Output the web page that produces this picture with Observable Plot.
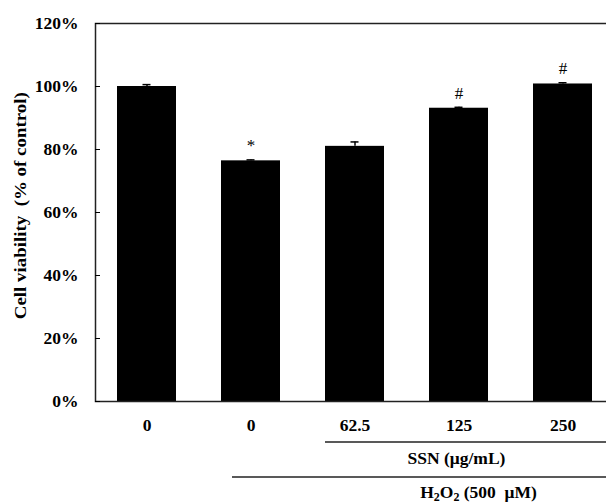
<!DOCTYPE html>
<html>
<head>
<meta charset="utf-8">
<script src="https://cdn.jsdelivr.net/npm/d3@7"></script>
<script src="https://cdn.jsdelivr.net/npm/@observablehq/plot@0.6"></script>
<style>
  html, body { margin: 0; padding: 0; background: #fff; }
  #chart svg { font-family: "Liberation Serif", "Times New Roman", serif; display: block; }
</style>
</head>
<body>
<div id="chart"></div>
<script>
// ---- data ----
const groupIds   = ["ctrl", "h2o2", "s62", "s125", "s250"];
const tickLabels = ["0", "0", "62.5", "125", "250"];
const viability  = [100.0, 76.4, 81.0, 93.1, 100.8];
const errors     = [0.6, 0.3, 1.4, 0.3, 0.4];
const marks      = ["", "*", "", "#", "#"];
const yTicks     = [0, 20, 40, 60, 80, 100, 120];
const yTitle     = "Cell viability  (% of control)";
const ssnLabel   = "SSN (μg/mL)";

const data = groupIds.map((id, i) => ({
  id, label: tickLabels[i], value: viability[i], err: errors[i], sig: marks[i]
}));
const labelOf = Object.fromEntries(data.map(d => [d.id, d.label]));

const W = 606, H = 503;
const plot = Plot.plot({
  width: W,
  height: H,
  marginLeft: 95,
  marginRight: -9,
  marginTop: 23,
  marginBottom: 102,
  style: {fontFamily: "Liberation Serif, Times New Roman, serif", background: "#fff"},
  x: {type: "band", domain: groupIds, paddingInner: 0.43, paddingOuter: 0.215},
  y: {domain: [0, 120]},
  marks: [
    Plot.barY(data, {x: "id", y: "value", fill: "black"}),
    Plot.ruleX(data, {x: "id", y1: "value", y2: d => d.value + d.err, stroke: "black", strokeWidth: 1.5}),
    Plot.tickY(data, {x: "id", y: d => d.value + d.err, stroke: "black", strokeWidth: 1.5, insetLeft: 25.5, insetRight: 25.5}),
    Plot.text(data.filter(d => d.sig), {x: "id", y: d => d.value + d.err, text: "sig", dy: -14, fontSize: 17, fill: "black"}),
    Plot.frame({stroke: "#222", strokeWidth: 1.5}),
    Plot.axisY({ticks: yTicks, tickFormat: d => d + "%", tickSize: -5, tickPadding: 22, fontSize: 17.5, fontWeight: "bold", label: null, stroke: "black"}),
    Plot.axisX({tickFormat: id => labelOf[id], tickSize: 0, tickPadding: 17, fontSize: 17.5, fontWeight: "bold", label: null})
  ]
});
document.getElementById("chart").appendChild(plot);

// ---- group annotations below the axis, positioned from the plot's scales ----
const xs = plot.scale("x"), ys = plot.scale("y");
const bw = xs.bandwidth;
const base = ys.apply(0);
const svg = d3.select(plot);
const g = svg.append("g").attr("fill", "black").attr("font-weight", "bold");

// y title
g.append("text")
  .attr("transform", `translate(20,${ys.apply(62)}) rotate(-90)`)
  .attr("text-anchor", "middle").attr("dominant-baseline", "central")
  .attr("font-size", 16.5).attr("xml:space", "preserve").style("white-space", "pre")
  .attr("textLength", 227).attr("lengthAdjust", "spacingAndGlyphs")
  .text(yTitle);

// SSN bracket line + label
g.append("line")
  .attr("x1", xs.apply("s62")).attr("x2", W)
  .attr("y1", base + 41).attr("y2", base + 41)
  .attr("stroke", "#222").attr("stroke-width", 1.5);
g.append("text")
  .attr("x", xs.apply("s125") + bw / 2 - 2).attr("y", base + 63)
  .attr("text-anchor", "middle").attr("font-size", 17.5)
  .text(ssnLabel);

// H2O2 bracket line + label
g.append("line")
  .attr("x1", xs.apply("h2o2") + 11).attr("x2", W)
  .attr("y1", base + 76).attr("y2", base + 76)
  .attr("stroke", "#222").attr("stroke-width", 1.5);
const ht = g.append("text")
  .attr("x", xs.apply("s125") + bw / 2 + 20).attr("y", base + 97)
  .attr("text-anchor", "middle").attr("font-size", 17.5)
  .attr("xml:space", "preserve").style("white-space", "pre");
ht.append("tspan").text("H");
ht.append("tspan").attr("font-size", 12).attr("dy", 3).text("2");
ht.append("tspan").attr("dy", -3).text("O");
ht.append("tspan").attr("font-size", 12).attr("dy", 3).text("2");
ht.append("tspan").attr("dy", -3).text(" (500  μM)");
</script>
</body>
</html>
